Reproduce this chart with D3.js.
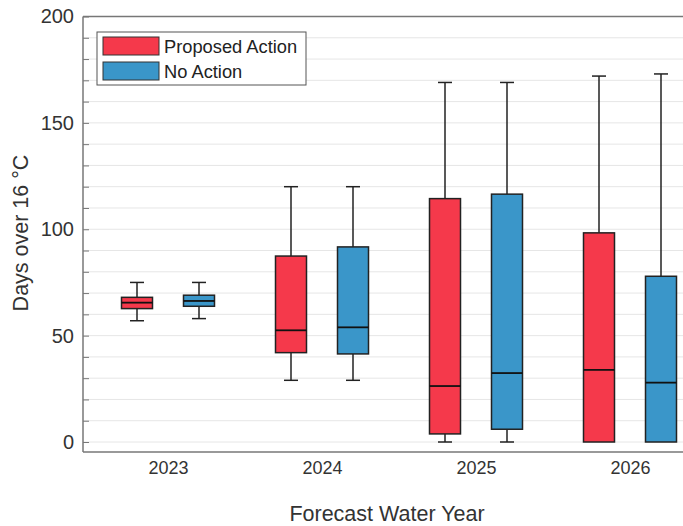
<!DOCTYPE html>
<html><head><meta charset="utf-8">
<script src="https://cdn.jsdelivr.net/npm/d3@7"></script>
<style>
body{margin:0;background:#fff;}
svg{display:block;font-family:"Liberation Sans",Arial,sans-serif;}
</style></head>
<body><svg id="c" width="683" height="526"></svg>
<script>
const years = ["2023","2024","2025","2026"];
const seriesNames = ["Proposed Action","No Action"];
const seriesColors = ["#F5394B","#3A96C9"];
// [whiskerLow, q1, median, q3, whiskerHigh]
const proposed = [
  [57, 62.7, 65.5, 68, 75],
  [29, 42, 52.5, 87.4, 120],
  [0, 3.8, 26.3, 114.4, 169],
  [0, 0, 33.9, 98.3, 172]
];
const noAction = [
  [58, 63.8, 66.3, 69, 75],
  [29, 41.4, 53.9, 91.7, 120],
  [0, 6, 32.4, 116.5, 169],
  [0, 0, 27.9, 77.9, 173]
];
const yTicks = [0,50,100,150,200];
const yMinor = d3.range(0,201,10);

const svg = d3.select("#c");
const L=83, R=700, T=16.5, B=452;
const y = d3.scaleLinear().domain([-4.7,200]).range([B,T]);
const x = d3.scalePoint().domain(years).range([168,630]);
const off = d3.scaleOrdinal().domain(seriesNames).range([-31,31]);
const bw = 31, cap = 14;

// grid
svg.append("g").selectAll("line").data(yMinor).join("line")
  .attr("x1",L).attr("x2",R).attr("y1",d=>y(d)).attr("y2",d=>y(d))
  .attr("stroke","#e6e6e6").attr("stroke-width",1);

// axes
const ya = svg.append("g").attr("transform",`translate(${L},0)`)
  .call(d3.axisLeft(y).tickValues(yMinor).tickSize(-6).tickFormat(d=>yTicks.includes(d)?d:""));
ya.select(".domain").remove();
ya.selectAll(".tick line").attr("stroke","#777");
ya.selectAll(".tick text").attr("x",-9).attr("font-size",20).attr("fill","#333")
  .attr("font-family","Liberation Sans, Arial, sans-serif");

const xa = svg.append("g").attr("transform",`translate(0,${B})`)
  .call(d3.axisBottom(x).tickSize(0).tickPadding(9));
xa.select(".domain").remove();
xa.selectAll(".tick text").attr("font-size",18).attr("fill","#333")
  .attr("font-family","Liberation Sans, Arial, sans-serif");

svg.append("line").attr("x1",L).attr("x2",L).attr("y1",T).attr("y2",B).attr("stroke","#777").attr("stroke-width",1.5);
svg.append("line").attr("x1",L).attr("x2",R).attr("y1",B).attr("y2",B).attr("stroke","#777").attr("stroke-width",1.5);
svg.append("line").attr("x1",L).attr("x2",R).attr("y1",T).attr("y2",T).attr("stroke","#777").attr("stroke-width",1.5);

// boxes
const all = [proposed, noAction];
all.forEach((ser,si)=>{
  const g = svg.append("g");
  ser.forEach((s,i)=>{
    const cx = x(years[i]) + off(seriesNames[si]);
    const [lo,q1,md,q3,hi] = s;
    if (hi>q3){
      g.append("line").attr("x1",cx).attr("x2",cx).attr("y1",y(q3)).attr("y2",y(hi)).attr("stroke","#222").attr("stroke-width",1.5);
      g.append("line").attr("x1",cx-cap/2).attr("x2",cx+cap/2).attr("y1",y(hi)).attr("y2",y(hi)).attr("stroke","#222").attr("stroke-width",1.5);
    }
    if (lo<q1){
      g.append("line").attr("x1",cx).attr("x2",cx).attr("y1",y(q1)).attr("y2",y(lo)).attr("stroke","#222").attr("stroke-width",1.5);
      g.append("line").attr("x1",cx-cap/2).attr("x2",cx+cap/2).attr("y1",y(lo)).attr("y2",y(lo)).attr("stroke","#222").attr("stroke-width",1.5);
    }
    g.append("rect").attr("x",cx-bw/2).attr("width",bw).attr("y",y(q3)).attr("height",y(q1)-y(q3))
      .attr("fill",seriesColors[si]).attr("stroke","#222").attr("stroke-width",1.5);
    g.append("line").attr("x1",cx-bw/2).attr("x2",cx+bw/2).attr("y1",y(md)).attr("y2",y(md)).attr("stroke","#111").attr("stroke-width",1.8);
  });
});

// legend
const lg = svg.append("g");
lg.append("rect").attr("x",97).attr("y",32).attr("width",209).attr("height",53).attr("fill","#fff").attr("stroke","#555").attr("stroke-width",1);
seriesNames.forEach((n,i)=>{
  lg.append("rect").attr("x",103).attr("y",37+i*25).attr("width",56).attr("height",18)
    .attr("fill",seriesColors[i]).attr("stroke","#333").attr("stroke-width",1);
  lg.append("text").attr("x",164).attr("y",46+i*25).attr("dominant-baseline","central")
    .attr("font-size",18.3).attr("fill","#222").text(n);
});

// titles
svg.append("text").attr("transform","translate(28,233) rotate(-90)").attr("text-anchor","middle")
  .attr("font-size",21.5).attr("fill","#333").text("Days over 16 °C");
svg.append("text").attr("x",387).attr("y",521).attr("text-anchor","middle")
  .attr("font-size",21.5).attr("fill","#333").text("Forecast Water Year");
</script></body></html>
